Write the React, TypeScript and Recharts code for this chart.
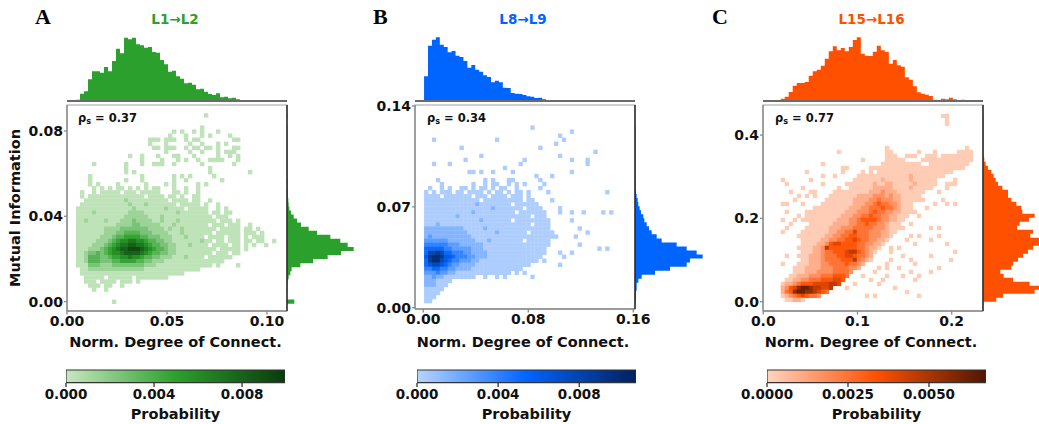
import React from 'react';
import {
  ScatterChart, Scatter, XAxis, YAxis, AreaChart, Area, BarChart, Bar,
  ReferenceLine, ReferenceArea,
} from 'recharts';

const SANS = "'DejaVu Sans', 'Noto Sans', sans-serif";
const SERIF = "'Liberation Serif', 'DejaVu Serif', serif";

// ---------------- Panel A : L1→L2 ----------------
const A_TITLE = 'L1→L2';
const A_RHO = '0.37';
const A_X_TICKS = [0, 0.05, 0.1];
const A_Y_TICKS = [0, 0.04, 0.08];
const A_CB_TICKS = [0, 0.004, 0.008];
const A_CB_MAX = 0.00995;
const A_X_BIN_START = 0.0045;
const A_X_BIN = 0.002;
const A_Y_BIN_START = -0.00095;
const A_Y_BIN = 0.0019;
const A_TOP_HIST = [4, 22, 29, 65, 89, 89, 85, 102, 89, 120, 157, 143, 190, 185, 190, 170, 167, 160, 162, 147, 145, 123, 110, 88, 91, 74, 67, 53, 55, 49, 35, 37, 28, 21, 18, 23, 11, 13, 8, 10, 5, 3, 2, 2, 2, 3, 2, 1, 1, 1];
const A_RIGHT_HIST = [22, 0, 0, 1, 1, 2, 5, 10, 14, 40, 78, 122, 162, 200, 182, 160, 130, 90, 65, 42, 30, 20, 12, 7, 5, 4, 3, 3, 2, 2, 2, 1, 1, 1, 1, 1, 1, 1, 1, 1, 1, 1, 1, 1, 0, 0, 1];
// 2-D histogram, top row first; '.' empty, 1..9 probability level
const A_GRID = [
  '..........|..........|..........|..1',
  '',
  '',
  '..........|..........|..........|.1',
  '..........|..........|....1.1..1|.1...1',
  '..........|..........|...1...1..|.1.1....1',
  '..........|........11|1.111..1.1|1........1|1',
  '..........|........1.|..1.....1.|.1...1.1',
  '..........|.........1|1.111..1.1|1.11.1...1|1',
  '..........|..........|..1.....1.|.1...1.111',
  '..........|...1..1...|1...11...1|.....1..1.|1',
  '..........|......1...|.1...1.1..|1..1111...|1',
  '....1.....|..1...1..1|11..1.....|.1.......1',
  '..........|..1.......|..........|...1',
  '..........|..1.1.....|..........|...1......|...1',
  '...1......|......1...|....1.1.1.|....1',
  '...1......|..1...1...|....1..1..|......1',
  '...1.1....|1......1..|..1.1.....|1.1',
  '....1.1.1.|11.1.1.1.1|1...1..1..|1',
  '.1..1.1111|1.111.1111|1...11.1..|1',
  '.1.1111111|1111111.11|11.11.1..1|1',
  '..11111111|1121111111|111.1111.1|1..1',
  '.111111111|1112111211|11111.1111|1.1..1',
  '1111111111|1111211111|1121111.11|111..1.1',
  '1111211111|1112222111|1111121111|111.11.11',
  '1111111111|1122222211|1211111111|1111.111',
  '1121111211|1222322221|1211121111|11111.111.|1',
  '1111111111|2222332222|2111211111|111.111.11|1..1',
  '1111111222|2333333322|2212112111|11111.1111|1.11.1',
  '1111111222|3344443332|2221112111|1111.11111|1.111.1',
  '1111112223|4455554433|3222111211|11.1111.11|1.1.111',
  '1111122234|5667766544|3322111111|1211.11.11|1.11.11..1',
  '1111222345|6778877654|4332211121|111.1111.1|1.1.1..1',
  '1112223456|7889998765|4432211111|11111.1111|1.1',
  '1123343456|6788887654|4332211111|1111.111.1|1',
  '1124443345|5667665443|3222111211|11.111111',
  '1124443334|4555544332|2211111111|1111111',
  '1113332223|3333333222|1111111111|1111.1....|1',
  '.112222222|2222222111|1111111111|1',
  '.111111111|1111111111|1111111',
  '..11111.11|1111.11111|111',
  '..111.1111|.111.1',
  '...111.11.|.1',
  '....1..1',
  '',
  '',
  '.........1',
];

// ---------------- Panel B : L8→L9 ----------------
const B_TITLE = 'L8→L9';
const B_RHO = '0.34';
const B_X_TICKS = [0, 0.08, 0.16];
const B_Y_TICKS = [0, 0.07, 0.14];
const B_CB_TICKS = [0, 0.004, 0.008];
const B_CB_MAX = 0.0108;
const B_X_BIN_START = 0.0006;
const B_X_BIN = 0.003;
const B_Y_BIN_START = 0.0033;
const B_Y_BIN = 0.0028;
const B_TOP_HIST = [74, 166, 184, 191, 169, 162, 146, 150, 136, 132, 120, 100, 108, 94, 88, 77, 72, 56, 61, 56, 40, 39, 24, 22, 21, 18, 14, 13, 9, 10, 5, 2, 2, 2, 2, 1, 0, 1, 1, 1];
const B_RIGHT_HIST = [2, 3, 3, 5, 5, 10, 20, 60, 105, 155, 165, 203, 185, 155, 125, 80, 65, 50, 42, 35, 28, 25, 18, 14, 10, 8, 5, 3, 2, 2, 1, 1, 1, 1, 1, 1, 1, 1, 1, 1, 1, 1, 1, 1];
const B_GRID = [
  '..........|..........|.......1',
  '..........|..........|..........|.......1',
  '..........|..........|..........|....1',
  '..1.......|........1.|..........|.....1',
  '..........|..........|..........|...1',
  '.........1|..........|.........1',
  '..........|..........|..........|..........|...1',
  '..........|....1.....|..........|....1',
  '..........|1.........|.....1....|.......1..|.1',
  '..1...1...|..........|....1.....|..........|.1',
  '..........|..........|1',
  '..........|.11.1..1..|..1.......|.......1',
  '..........|..........|........1.|..1',
  '...1......|.....1.1..|.11......1',
  '....1.....|..1..1.11.|.1.1.1....|1',
  '.1..1.1..1|1.1.11.1.1|1..1.....1',
  '1.1.111.11|.1111.1.11|.1.11.1...|.1........|......1',
  '1111.11111|11.111.111|1.111.1...',
  '1111111111|1111.11111|11111.11..|..1',
  '1111111111|1112111111|11.111111',
  '1111111111|1111111211|11111.1111|....1',
  '1111111111|1121111111|111.111111|1...1..1..|1....1.1',
  '1111111121|1111111111|1111111.11|1',
  '1111111111|1111211111|11.1111111|11.....1',
  '1112111111|1111111111|1111111.11|11',
  '2222222222|1111121111|1111111111|11.......1',
  '2222222222|2111111121|111111.111|111.......|.1',
  '2322222222|2211111111|1111111111|1111....1.',
  '3333332222|2221112111|11111.1111|11',
  '4444443332|2222211111|1111111111|11.......1',
  '5555544333|3322211111|1111111111|1.........|....1.1',
  '5778755444|3322221111|1111111111|1...1..1',
  '6899866544|4332221111|1111111111|.....1',
  '5899765443|3322111111|111111111.|1',
  '5677654332|2221111111|1111111...|....1',
  '4455443322|2211111111|11111',
  '3334332211|1111111111|11.1.1',
  '2232211111|111..1..1.|1......1',
  '2221111',
  '222111',
  '11111',
  '1111',
  '111',
  '11',
];

// ---------------- Panel C : L15→L16 ----------------
const C_TITLE = 'L15→L16';
const C_RHO = '0.77';
const C_X_TICKS = [0, 0.1, 0.2];
const C_Y_TICKS = [0, 0.2, 0.4];
const C_CB_TICKS = [0, 0.0025, 0.005];
const C_CB_MAX = 0.00676;
const C_X_BIN_START = 0.0185;
const C_X_BIN = 0.00425;
const C_Y_BIN_START = 0;
const C_Y_BIN = 0.0096;
const C_TOP_HIST = [7, 13, 27, 46, 54, 54, 57, 76, 89, 94, 106, 127, 149, 164, 152, 159, 149, 162, 183, 191, 142, 136, 135, 148, 166, 152, 147, 112, 123, 107, 103, 71, 64, 44, 26, 22, 19, 15, 4, 0, 7, 5, 10, 5, 1, 4, 3, 2, 1];
const C_RIGHT_HIST = [40, 60, 155, 175, 140, 90, 62, 52, 85, 90, 105, 120, 135, 150, 170, 170, 142, 150, 102, 110, 138, 155, 118, 115, 100, 85, 75, 75, 58, 45, 38, 32, 25, 15, 8, 4, 2, 1, 1, 1, 1, 1, 1, 1, 1, 1, 1];
const C_GRID = [
  '..........|..........|..........|..........|11',
  '..........|..........|..........|..........|.1',
  '..........|..........|..........|..........|.1',
  '',
  '',
  '',
  '',
  '',
  '..........|..........|......1...|..........|......1',
  '..........|....1.....|......11..|....1...1.|....1111',
  '..........|..........|......111.|.111..111.|11111111',
  '..........|..........|1.....1111|1....11111|11111111',
  '..........|1.........|.....11111|11111..111|1111111',
  '..........|.....11...|..11111111|1111111111|111111',
  '......1...|.....1....|1.1.111111|1111111111|111',
  '..........|1..1.....1|1111111111|1121111111|1',
  '1......1..|........11|1111121111|112111111.|...1',
  '.1........|1.....1111|1112112211|111211111.|.111',
  '.....1....|....1..111|1112222211|11211111..|.1',
  '..1....11.|...1111111|1122232221|111111...1',
  '....1.1.1.|..11111112|2223332322|11111',
  '...1......|.111111122|2233433322|111111....|1',
  '11...1....|1111111122|2334544332|111.....1.|.1.1',
  '........11|1111111222|3344454432|111...1',
  '.1....1111|1111112223|3345443322|1111',
  '....1.1111|1111122233|4454433221|11..1',
  '1..1.11111|1111222334|5555433221|1',
  '..1....111|1112222334|4544332111|..1',
  '.1....1111|1122233344|4443332111|1......1.1',
  '1....11111|1122334464|443332211',
  '....111111|1223344554|44333221..|..1.1....1',
  '.....11111|2233445565|4433221...|.1.....1',
  '.....11112|2356655554|433221....|...1......|.1',
  '....111122|3755555554|43221..1.1',
  '.....11122|3445556775|4321...1..|..........|...1',
  '.1..111222|3444556654|432.......|1......1',
  '.....11222|3444455574|321....1..|..1.......|..1',
  '1...111222|3344445443|2.....1...|...1',
  '...1112222|3334444332|....1.1..1|.........1',
  '...1112223|33344443..|...1......|..1....1',
  '..11222333|4445554...|1.....1...|1...1',
  '.112233444|555665....|..1..1....|...1',
  '1223455566|66776...1.|....1',
  '2356899877|667...1...|........1.',
  '2458998876|54........|..........|.1',
  '1234565443|..........|.1.1......|....1',
  '.11221',
];

// ---------------- helpers ----------------
function hexToRgb(h: string) {
  const n = parseInt(h.slice(1), 16);
  return [(n >> 16) & 255, (n >> 8) & 255, n & 255];
}
function cmapColor(stops: string[], t: number) {
  const seg = t <= 0.5 ? 0 : 1;
  const f = seg === 0 ? t / 0.5 : (t - 0.5) / 0.5;
  const a = hexToRgb(stops[seg]);
  const b = hexToRgb(stops[seg + 1]);
  const c = a.map((v, i) => Math.round(v + (b[i] - v) * f));
  return `rgb(${c[0]},${c[1]},${c[2]})`;
}
const levelT = (L: number) => 0.03 + (L - 1) * 0.111;

function gridCells(rows: string[], xs: number, xb: number, ys: number, yb: number) {
  const out: { x: number; y: number; level: number }[] = [];
  const n = rows.length;
  rows.forEach((row, i) => {
    const k = n - 1 - i;
    const s = row.replace(/\|/g, '');
    for (let c = 0; c < s.length; c++) {
      const ch = s[c];
      if (ch >= '1' && ch <= '9') {
        out.push({ x: xs + (c + 0.5) * xb, y: ys + (k + 0.5) * yb, level: Number(ch) });
      }
    }
  });
  return out;
}
function histData(start: number, step: number, counts: number[]) {
  const d = counts.map((v, i) => ({ e: start + i * step, v }));
  d.push({ e: start + counts.length * step, v: 0 });
  return d;
}

type Cfg = {
  id: string;
  letter: string; letterX: number;
  title: string; titleCX: number; color: string; cmap: string[];
  rho: string; rhoX: number;
  L: number; T: number; W: number; H: number;
  xDomain: number[]; yDomain: number[];
  xTicks: number[]; yTicks: number[]; xDigits: number; yDigits: number;
  xs: number; xb: number; ys: number; yb: number;
  grid: string[]; top: number[]; right: number[];
  cbTicks: number[]; cbMax: number; cbDigits: number; cbL: number;
  labelCX: number; yLabel: boolean;
};

const PANELS: Cfg[] = [
  {
    id: 'A', letter: 'A', letterX: 35, title: A_TITLE, titleCX: 175, color: '#2ca02c',
    cmap: ['#c8e7c1', '#2ca02c', '#0a3b0d'], rho: A_RHO, rhoX: 78,
    L: 67, T: 105, W: 220, H: 206, xDomain: [0, 0.11], yDomain: [-0.0044, 0.0922],
    xTicks: A_X_TICKS, yTicks: A_Y_TICKS, xDigits: 2, yDigits: 2,
    xs: A_X_BIN_START, xb: A_X_BIN, ys: A_Y_BIN_START, yb: A_Y_BIN,
    grid: A_GRID, top: A_TOP_HIST, right: A_RIGHT_HIST,
    cbTicks: A_CB_TICKS, cbMax: A_CB_MAX, cbDigits: 3, cbL: 66, labelCX: 175.5, yLabel: true,
  },
  {
    id: 'B', letter: 'B', letterX: 373, title: B_TITLE, titleCX: 523, color: '#0064ff',
    cmap: ['#b8d4ff', '#0064ff', '#00215e'], rho: B_RHO, rhoX: 427,
    L: 415, T: 105, W: 220, H: 204, xDomain: [-0.0063, 0.1613], yDomain: [-0.0009, 0.1407],
    xTicks: B_X_TICKS, yTicks: B_Y_TICKS, xDigits: 2, yDigits: 2,
    xs: B_X_BIN_START, xb: B_X_BIN, ys: B_Y_BIN_START, yb: B_Y_BIN,
    grid: B_GRID, top: B_TOP_HIST, right: B_RIGHT_HIST,
    cbTicks: B_CB_TICKS, cbMax: B_CB_MAX, cbDigits: 3, cbL: 417, labelCX: 523, yLabel: false,
  },
  {
    id: 'C', letter: 'C', letterX: 712, title: C_TITLE, titleCX: 871.5, color: '#ff5000',
    cmap: ['#ffd4c2', '#ff5000', '#4f1700'], rho: C_RHO, rhoX: 775,
    L: 763, T: 105, W: 220, H: 206, xDomain: [-0.0003, 0.2332], yDomain: [-0.0223, 0.4723],
    xTicks: C_X_TICKS, yTicks: C_Y_TICKS, xDigits: 1, yDigits: 1,
    xs: C_X_BIN_START, xb: C_X_BIN, ys: C_Y_BIN_START, yb: C_Y_BIN,
    grid: C_GRID, top: C_TOP_HIST, right: C_RIGHT_HIST,
    cbTicks: C_CB_TICKS, cbMax: C_CB_MAX, cbDigits: 4, cbL: 767, labelCX: 871, yLabel: false,
  },
];

const tickStyle = { fill: '#111', fontSize: 14, fontWeight: 700, fontFamily: SANS };
const AXIS_GREY = '#8a8a8a';
const TOP_PAD = 12;

function Panel({ cfg }: { cfg: Cfg }) {
  const cells = gridCells(cfg.grid, cfg.xs, cfg.xb, cfg.ys, cfg.yb);
  const cw = (cfg.xb * cfg.W) / (cfg.xDomain[1] - cfg.xDomain[0]);
  const ch = (cfg.yb * cfg.H) / (cfg.yDomain[1] - cfg.yDomain[0]);
  const topData = histData(cfg.xs, cfg.xb, cfg.top);
  const rightData = histData(cfg.ys, cfg.yb, cfg.right);
  const renderCell = (p: any) => (
    <rect
      x={p.cx - cw / 2}
      y={p.cy - ch / 2}
      width={cw + 0.35}
      height={ch + 0.35}
      fill={cmapColor(cfg.cmap, levelT(p.payload.level))}
    />
  );
  const gradId = `grad${cfg.id}`;
  return (
    <>
      {/* panel letter */}
      <div style={{ position: 'absolute', left: cfg.letterX, top: 6, fontFamily: SERIF, fontWeight: 700, fontSize: 22, lineHeight: '22px', color: '#000' }}>
        {cfg.letter}
      </div>
      {/* title */}
      <div style={{ position: 'absolute', left: cfg.titleCX, top: 20, transform: 'translate(-50%,-50%)', fontFamily: SANS, fontWeight: 700, fontSize: 13.5, lineHeight: 1, color: cfg.color, whiteSpace: 'nowrap' }}>
        {cfg.title}
      </div>

      {/* main 2-D histogram */}
      <div style={{ position: 'absolute', left: cfg.L - 60, top: cfg.T - TOP_PAD }}>
        <ScatterChart width={60 + cfg.W + 25} height={TOP_PAD + cfg.H + 40} margin={{ top: TOP_PAD, right: 25, bottom: 0, left: 0 }}>
          <XAxis
            type="number" dataKey="x" domain={cfg.xDomain} allowDataOverflow ticks={cfg.xTicks} interval={0}
            tickFormatter={(v: number) => v.toFixed(cfg.xDigits)} height={40} tickSize={3.5} tickMargin={2}
            axisLine={{ stroke: AXIS_GREY, strokeWidth: 1.3 }} tickLine={{ stroke: AXIS_GREY, strokeWidth: 1.3 }}
            tick={tickStyle}
          />
          <YAxis
            type="number" dataKey="y" domain={cfg.yDomain} allowDataOverflow ticks={cfg.yTicks} interval={0}
            tickFormatter={(v: number) => v.toFixed(cfg.yDigits)} width={60} tickSize={3} tickMargin={1}
            axisLine={{ stroke: AXIS_GREY, strokeWidth: 1.3 }} tickLine={{ stroke: AXIS_GREY, strokeWidth: 1.3 }}
            tick={tickStyle}
          />
          <Scatter data={cells} isAnimationActive={false} shape={renderCell} />
          <ReferenceArea
            x1={cfg.xDomain[0]} x2={cfg.xDomain[1]} y1={cfg.yDomain[0]} y2={cfg.yDomain[1]}
            fill="none" fillOpacity={0} stroke="#a0a0a0" strokeWidth={1.2} ifOverflow="visible"
          />
        </ScatterChart>
      </div>

      {/* top marginal histogram */}
      <div style={{ position: 'absolute', left: cfg.L, top: 33 }}>
        <AreaChart width={cfg.W} height={69} data={topData} margin={{ top: 0, right: 0, bottom: 1, left: 0 }}>
          <XAxis type="number" dataKey="e" domain={cfg.xDomain} allowDataOverflow hide />
          <YAxis type="number" domain={[0, 204]} allowDataOverflow hide />
          <Area type="stepAfter" dataKey="v" stroke="none" fill={cfg.color} fillOpacity={1} isAnimationActive={false} dot={false} activeDot={false} />
          <ReferenceLine y={0} stroke="#6a6a6a" strokeWidth={2} />
        </AreaChart>
      </div>

      {/* right marginal histogram */}
      <div style={{ position: 'absolute', left: cfg.L + cfg.W - 1, top: cfg.T }}>
        <AreaChart layout="vertical" width={71} height={cfg.H} data={rightData} margin={{ top: 0, right: 0, bottom: 0, left: 1 }}>
          <XAxis type="number" domain={[0, 210]} allowDataOverflow hide />
          <YAxis type="number" dataKey="e" domain={cfg.yDomain} allowDataOverflow hide reversed />
          <Area type="stepBefore" dataKey="v" stroke="none" fill={cfg.color} fillOpacity={1} isAnimationActive={false} dot={false} activeDot={false} />
          <ReferenceLine x={0} stroke="#2a2a2a" strokeWidth={1.5} />
        </AreaChart>
      </div>

      {/* rho annotation */}
      <div style={{ position: 'absolute', left: cfg.rhoX, top: 120, transform: 'translateY(-50%)', fontFamily: SANS, fontWeight: 700, fontSize: 11.5, lineHeight: 1, color: '#111', whiteSpace: 'nowrap' }}>
        ρ<sub style={{ fontSize: '0.7em', verticalAlign: '-0.25em' }}>s</sub> = {cfg.rho}
      </div>

      {/* x label */}
      <div style={{ position: 'absolute', left: cfg.labelCX, top: 341.5, transform: 'translate(-50%,-50%)', fontFamily: SANS, fontWeight: 700, fontSize: 14.5, lineHeight: 1, color: '#111', whiteSpace: 'nowrap' }}>
        Norm. Degree of Connect.
      </div>
      {cfg.yLabel && (
        <div style={{ position: 'absolute', left: 15, top: 207.5, transform: 'translate(-50%,-50%) rotate(-90deg)', fontFamily: SANS, fontWeight: 700, fontSize: 14.5, lineHeight: 1, color: '#111', whiteSpace: 'nowrap' }}>
          Mutual Information
        </div>
      )}

      {/* colorbar */}
      <div style={{ position: 'absolute', left: cfg.cbL - 30, top: 368 }}>
        <BarChart layout="vertical" width={219 + 60} height={42} data={[{ n: 'p', v: cfg.cbMax }]} margin={{ top: 1, right: 30, bottom: 0, left: 30 }} barCategoryGap={0}>
          <defs>
            <linearGradient id={gradId} x1="0" y1="0" x2="1" y2="0">
              <stop offset="0%" stopColor={cfg.cmap[0]} />
              <stop offset="50%" stopColor={cfg.cmap[1]} />
              <stop offset="100%" stopColor={cfg.cmap[2]} />
            </linearGradient>
          </defs>
          <XAxis
            type="number" domain={[0, cfg.cbMax]} allowDataOverflow ticks={cfg.cbTicks} interval={0}
            tickFormatter={(v: number) => v.toFixed(cfg.cbDigits)} height={27} axisLine={false}
            tickLine={{ stroke: '#222', strokeWidth: 1.2 }} tickSize={4} tickMargin={2}
            tick={{ ...tickStyle, fontSize: 13.5 }}
          />
          <YAxis type="category" dataKey="n" hide />
          <Bar dataKey="v" fill={`url(#${gradId})`} stroke="#333" strokeWidth={1.2} barSize={14} isAnimationActive={false} />
        </BarChart>
      </div>
      <div style={{ position: 'absolute', left: cfg.cbL + 109.5, top: 414, transform: 'translate(-50%,-50%)', fontFamily: SANS, fontWeight: 700, fontSize: 14.5, lineHeight: 1, color: '#111', whiteSpace: 'nowrap' }}>
        Probability
      </div>
    </>
  );
}

export default function App() {
  return (
    <div style={{ position: 'absolute', left: 0, top: 0, width: 1039, height: 424, overflow: 'hidden', background: '#fff', fontFamily: SANS }}>
      {PANELS.map((p) => (
        <Panel key={p.id} cfg={p} />
      ))}
    </div>
  );
}
